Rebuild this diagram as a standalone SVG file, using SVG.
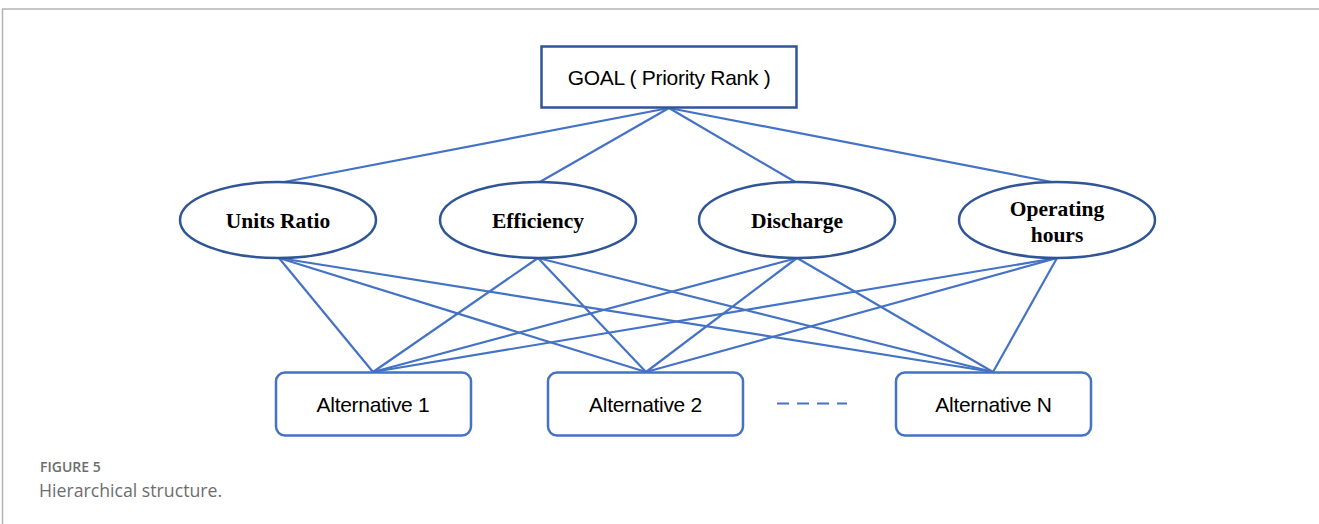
<svg xmlns="http://www.w3.org/2000/svg" width="1319" height="524" viewBox="0 0 1319 524">
<style>
.frame{fill:none;stroke:#b3b3b3;stroke-width:1.5}
.conn line{stroke:#4472C4;stroke-width:2.2;fill:none}
.goal{fill:#fff;stroke:#2F5597;stroke-width:2.5}
.crit{fill:#fff;stroke:#2F5597;stroke-width:2.5}
.alt{fill:#fff;stroke:#4472C4;stroke-width:2.5}
.sans{font-family:"Liberation Sans",Arial,sans-serif;font-size:21px;fill:#000;text-anchor:middle;letter-spacing:-0.3px}
.serif{font-family:"Liberation Serif","Times New Roman",serif;font-size:21.5px;font-weight:bold;fill:#000;text-anchor:middle}
.cap1{font-family:"Open Sans","Noto Sans",sans-serif;font-size:14px;font-weight:600;fill:#6d6d6d}
.cap2{font-family:"Open Sans","Noto Sans",sans-serif;font-size:17.7px;fill:#6d6d6d}
</style>
<rect width="1319" height="524" fill="#fff"/>
<path class="frame" d="M2.5 524 V9 H1319"/>
<g class="conn" id="connectors">
<line x1="669" y1="108" x2="279" y2="183"/>
<line x1="669" y1="108" x2="538" y2="183"/>
<line x1="669" y1="108" x2="797" y2="183"/>
<line x1="669" y1="108" x2="1057" y2="183"/>
<line x1="279" y1="258" x2="373" y2="372"/>
<line x1="279" y1="258" x2="646" y2="372"/>
<line x1="279" y1="258" x2="993" y2="372"/>
<line x1="538" y1="258" x2="373" y2="372"/>
<line x1="538" y1="258" x2="646" y2="372"/>
<line x1="538" y1="258" x2="993" y2="372"/>
<line x1="797" y1="258" x2="373" y2="372"/>
<line x1="797" y1="258" x2="646" y2="372"/>
<line x1="797" y1="258" x2="993" y2="372"/>
<line x1="1057" y1="258" x2="373" y2="372"/>
<line x1="1057" y1="258" x2="646" y2="372"/>
<line x1="1057" y1="258" x2="993" y2="372"/>
<line x1="777" y1="403.5" x2="847" y2="403.5" stroke-dasharray="12 8" stroke-width="2.5"/>
</g>
<g id="goal">
<rect class="goal" x="541.5" y="46.5" width="255" height="61"/>
<text class="sans" x="669" y="85">GOAL ( Priority Rank )</text>
</g>
<g id="units-ratio">
<ellipse class="crit" cx="278" cy="220" rx="98" ry="38"/>
<text class="serif" x="278" y="228">Units Ratio</text>
</g>
<g id="efficiency">
<ellipse class="crit" cx="538" cy="220" rx="98" ry="38"/>
<text class="serif" x="538" y="228">Efficiency</text>
</g>
<g id="discharge">
<ellipse class="crit" cx="797" cy="220" rx="98" ry="38"/>
<text class="serif" x="797" y="228">Discharge</text>
</g>
<g id="operating-hours">
<ellipse class="crit" cx="1057" cy="220" rx="98" ry="38"/>
<text class="serif" x="1057" y="216">Operating</text>
<text class="serif" x="1057" y="242">hours</text>
</g>
<g id="alt1">
<rect class="alt" x="276" y="372.5" width="195" height="63" rx="9"/>
<text class="sans" x="373" y="411.5">Alternative 1</text>
</g>
<g id="alt2">
<rect class="alt" x="548" y="372.5" width="195" height="63" rx="9"/>
<text class="sans" x="645.5" y="411.5">Alternative 2</text>
</g>
<g id="altN">
<rect class="alt" x="896" y="372.5" width="195" height="63" rx="9"/>
<text class="sans" x="993.5" y="411.5">Alternative N</text>
</g>
<text class="cap1" x="40" y="472">FIGURE 5</text>
<text class="cap2" x="39" y="497">Hierarchical structure.</text>
</svg>
